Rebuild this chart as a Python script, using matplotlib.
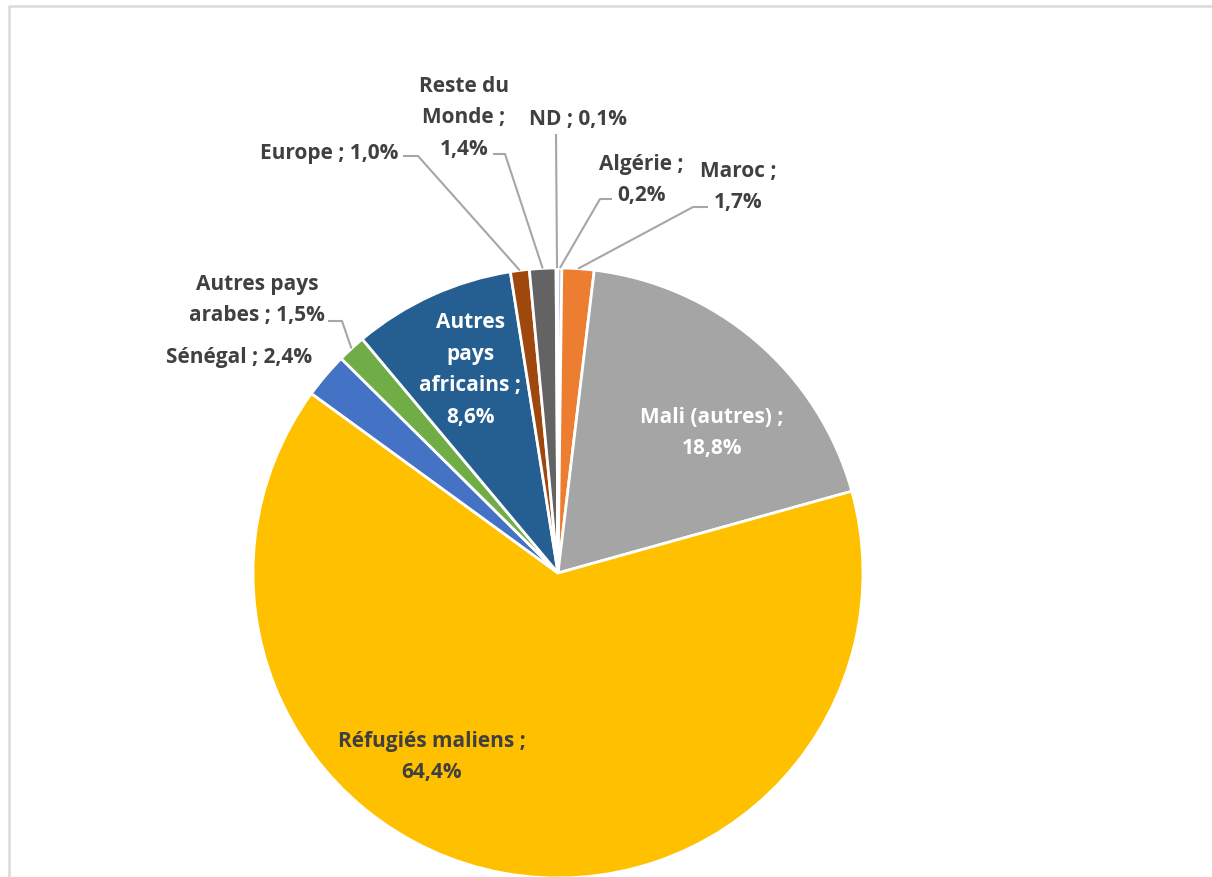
import matplotlib
matplotlib.use('Agg')
import matplotlib.pyplot as plt
import numpy as np

W, H = 1212, 878

labels = ['Algérie', 'Maroc', 'Mali (autres)', 'Réfugiés maliens', 'Sénégal',
          'Autres pays arabes', 'Autres pays africains', 'Europe', 'Reste du Monde', 'ND']
values = [0.2, 1.7, 18.8, 64.4, 2.4, 1.5, 8.6, 1.0, 1.4, 0.1]
colors = ['#4472C4', '#ED7D31', '#A5A5A5', '#FFC000', '#4472C4',
          '#70AD47', '#255E91', '#9E480E', '#636363', '#997300']

# label text as drawn in the chart
label_text = {
    'Algérie': 'Algérie ;\n0,2%',
    'Maroc': 'Maroc ;\n1,7%',
    'Mali (autres)': 'Mali (autres) ;\n18,8%',
    'Réfugiés maliens': 'Réfugiés maliens ;\n64,4%',
    'Sénégal': 'Sénégal ; 2,4%',
    'Autres pays arabes': 'Autres pays\narabes ; 1,5%',
    'Autres pays africains': 'Autres\npays\nafricains ;\n8,6%',
    'Europe': 'Europe ; 1,0%',
    'Reste du Monde': 'Reste du\nMonde ;\n1,4%',
    'ND': 'ND ; 0,1%',
}

# layout in image pixels: text centre, text colour, leader path (elbow points)
layout = {
    'Algérie': ((641, 180), '#404040', [(612, 200), (600, 200)]),
    'Maroc': ((738, 187), '#404040', [(708, 208), (693, 208)]),
    'Mali (autres)': ((712, 433), 'white', None),
    'Réfugiés maliens': ((432, 757), '#404040', None),
    'Sénégal': ((239, 358), '#404040', None),
    'Autres pays arabes': ((257, 300), '#404040', [(328, 322), (342, 322)]),
    'Autres pays africains': ((470, 370), 'white', None),
    'Europe': ((329, 153), '#404040', [(403, 157), (418, 157)]),
    'Reste du Monde': ((464, 118), '#404040', [(493, 155), (505, 155)]),
    'ND': ((578, 120), '#404040', [(556, 135)]),
}

CX, CY, R = 558, 574, 305

plt.rcParams['font.family'] = ['Open Sans', 'DejaVu Sans']

fig = plt.figure(figsize=(W / 100, H / 100), dpi=100)
ax = fig.add_axes([0, 0, 1, 1])
ax.set_xlim(0, W)
ax.set_ylim(0, H)
ax.set_aspect('equal')
ax.axis('off')


def P(x, y):
    return x, H - y


# chart border
ax.plot([9, 9, W + 5], [-5, H - 7, H - 7], color='#D9D9D9', lw=1.8, zorder=0)

wedges, _ = ax.pie(values, colors=colors, startangle=90, counterclock=False,
                   center=P(CX, CY), radius=R,
                   wedgeprops=dict(edgecolor='white', linewidth=2.0))
ax.set_xlim(0, W)
ax.set_ylim(0, H)

for name, w in zip(labels, wedges):
    (tx, ty), col, path = layout[name]
    ax.text(*P(tx, ty), label_text[name], ha='center', va='center', color=col,
            fontsize=15, fontweight='bold', linespacing=1.68, zorder=5)
    if path is None:
        continue
    mid = np.deg2rad((w.theta1 + w.theta2) / 2)
    cx, cy = w.center
    ex, ey = cx + w.r * np.cos(mid), cy + w.r * np.sin(mid)
    pts = [P(*p) for p in path]
    if name in ('Autres pays arabes',):
        xs = [p[0] for p in pts] + [ex]
        ys = [p[1] for p in pts] + [ey]
    else:
        xs = [ex] + [p[0] for p in reversed(pts)]
        ys = [ey] + [p[1] for p in reversed(pts)]
    ax.plot(xs, ys, color='#A6A6A6', lw=1.5, zorder=4, solid_capstyle='butt')

fig.savefig('out.png', dpi=100)
